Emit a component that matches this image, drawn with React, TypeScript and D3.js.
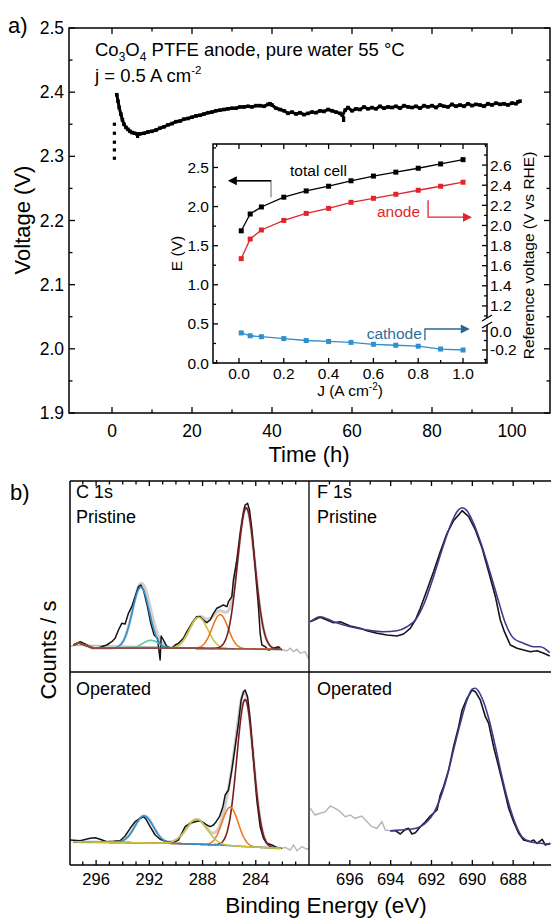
import React from "react";
import * as d3 from "d3";

const FONT = '"Liberation Sans", Arial, Helvetica, sans-serif';

// ---------- (a) durability test ----------
const timeHours = [1.2, 1.5, 1.8, 2.2, 2.6, 3.0, 3.5, 4.0, 4.5, 5.0, 5.6, 6.2, 7.0, 8.0, 9.0, 10, 11, 12, 13, 14, 15, 16, 17, 18, 19, 20, 21, 22, 23, 24, 25, 26, 27, 28, 29, 30, 31, 32, 33, 34, 35, 36, 37, 38, 39, 39.5, 40, 41, 42, 43, 44, 45, 46, 47, 48, 49, 50, 51, 52, 53, 54, 55, 56, 57, 57.6, 58.3, 59, 60, 61, 62, 63, 64, 65, 66, 67, 68, 69, 70, 71, 72, 73, 74, 75, 76, 77, 78, 79, 80, 81, 82, 83, 84, 85, 86, 87, 88, 89, 90, 91, 92, 93, 94, 95, 96, 97, 98, 99, 100, 101, 101.5, 102];
const cellVoltage = [2.396, 2.386, 2.376, 2.366, 2.357, 2.35, 2.345, 2.342, 2.339, 2.337, 2.336, 2.335, 2.335, 2.336, 2.338, 2.339, 2.341, 2.344, 2.346, 2.349, 2.351, 2.354, 2.355, 2.358, 2.359, 2.361, 2.363, 2.364, 2.366, 2.368, 2.369, 2.371, 2.372, 2.373, 2.374, 2.375, 2.375, 2.377, 2.377, 2.378, 2.377, 2.379, 2.379, 2.378, 2.381, 2.382, 2.38, 2.375, 2.373, 2.371, 2.367, 2.369, 2.366, 2.368, 2.365, 2.367, 2.369, 2.368, 2.371, 2.37, 2.373, 2.371, 2.369, 2.367, 2.364, 2.372, 2.376, 2.371, 2.374, 2.373, 2.377, 2.374, 2.376, 2.374, 2.378, 2.375, 2.377, 2.376, 2.378, 2.375, 2.379, 2.377, 2.376, 2.378, 2.375, 2.379, 2.377, 2.379, 2.376, 2.38, 2.378, 2.377, 2.381, 2.378, 2.38, 2.378, 2.382, 2.379, 2.381, 2.38, 2.378, 2.382, 2.38, 2.383, 2.381, 2.382, 2.38, 2.383, 2.382, 2.385, 2.386];
const startupTime = [0.6, 0.6, 0.6, 0.6, 0.6];
const startupVoltage = [2.35, 2.336, 2.322, 2.31, 2.297];
const strayTime = [6.4, 57.9, 57.9];
const strayVoltage = [2.331, 2.36, 2.356];
const timeTicks = [0, 20, 40, 60, 80, 100];
const timeMinor = [10, 30, 50, 70, 90];
const voltTicks = [1.9, 2.0, 2.1, 2.2, 2.3, 2.4, 2.5];
const voltMinor = [1.95, 2.05, 2.15, 2.25, 2.35, 2.45];

// ---------- inset: polarisation ----------
const currentDensity = [0.01, 0.05, 0.1, 0.2, 0.3, 0.4, 0.5, 0.6, 0.7, 0.8, 0.9, 1.0];
const totalCellE = [1.69, 1.905, 1.995, 2.12, 2.2, 2.26, 2.33, 2.39, 2.44, 2.49, 2.545, 2.6];
const anodeRHE = [1.67, 1.865, 1.955, 2.05, 2.12, 2.17, 2.23, 2.27, 2.31, 2.35, 2.39, 2.43];
const cathodeRHE = [-0.02, -0.05, -0.06, -0.08, -0.1, -0.11, -0.12, -0.14, -0.15, -0.16, -0.19, -0.2];
const jTicks = [0, 0.2, 0.4, 0.6, 0.8, 1.0];
const jMinor = [-0.1, 0.1, 0.3, 0.5, 0.7, 0.9, 1.1];
const eTicks = [0, 0.5, 1.0, 1.5, 2.0, 2.5];
const eMinor = [0.25, 0.75, 1.25, 1.75, 2.25, 2.75];
const rheUpperTicks = [1.2, 1.4, 1.6, 1.8, 2.0, 2.2, 2.4, 2.6];
const rheUpperMinor = [1.1, 1.3, 1.5, 1.7, 1.9, 2.1, 2.3, 2.5, 2.7];
const rheLowerTicks = [0.0, -0.2];
const rheLowerMinor = [-0.1, -0.3];

// ---------- (b) XPS C 1s ----------
const c1sPristineBE = [297.58, 297.2, 296.83, 296.45, 296.08, 295.7, 295.2, 294.82, 294.57, 294.32, 294.07, 293.82, 293.57, 293.32, 293.07, 292.82, 292.64, 292.44, 292.14, 291.89, 291.64, 291.39, 291.19, 291.11, 290.94, 290.68, 290.31, 290.06, 289.81, 289.44, 289.18, 288.8, 288.43, 288.18, 287.93, 287.68, 287.43, 287.18, 286.93, 286.68, 286.43, 286.17, 286.05, 285.8, 285.68, 285.42, 285.17, 284.92, 284.8, 284.62, 284.47, 284.29, 284.05, 283.8, 283.67, 283.54, 283.29, 283.04, 282.67, 282.29, 282.04];
const c1sPristineCounts = [3, 6.3, 4, 1.3, -0.3, 0.7, 3, 6.3, 9.7, 18, 24.7, 24, 34.7, 41.3, 51.3, 61.3, 63, 58, 41.3, 24.7, 13, 9.7, -12, 12, 8, 1.3, -0.3, 3, 4.7, 9.7, 16.3, 24.7, 31.3, 31.3, 28, 25.3, 28, 34.7, 39.7, 41.3, 43, 41.3, 46.3, 51.3, 68, 88, 114.7, 136.3, 143, 144.7, 138, 118, 81.3, 41.3, 14.7, 3, 1.3, -2, -0.3, 1.3, -2];
const c1sPristineTailBE = [297.98, 297.58, 282.04, 281.66, 281.41, 281.17, 280.91, 280.66, 280.29, 280.04, 279.9];
const c1sPristineTailCounts = [1.3, 3, -2, -2.7, -0.3, -3.7, -1.3, -5.3, -3.7, -10.3, -12];
const c1sPristineBaseBE = [297.7, 297.33, 296.2, 288.68, 282.17];
const c1sPristineBaseCounts = [3, 5.3, -0.3, -0.3, -1.3];
const c1sPristinePeakBE = [291.89, 292.64, 288.3, 286.68, 284.72];
const c1sPristinePeakHeight = [8, 61, 31, 34, 141];
const c1sPristinePeakSigma = [0.6, 0.64, 0.7, 0.6, 0.66];
const c1sPristinePeakColor = ["#5cc9a0", "#2f8fcf", "#c9c23a", "#f07a22", "#7a1c1e"];

const c1sOperatedBE = [297.95, 297.2, 296.45, 296.08, 295.7, 295.2, 294.7, 294.2, 293.82, 293.44, 293.07, 292.69, 292.44, 292.24, 291.94, 291.56, 291.19, 290.68, 290.19, 289.81, 289.56, 289.31, 288.93, 288.56, 288.23, 287.93, 287.68, 287.43, 287.18, 286.98, 286.73, 286.47, 286.3, 286.05, 285.8, 285.55, 285.3, 285.1, 284.92, 284.8, 284.62, 284.42, 284.17, 283.92, 283.67, 283.42, 283.17, 282.79, 282.54, 282.29, 282.04];
const c1sOperatedCounts = [5, 4.3, 6.7, 7.3, 5.7, 3.3, 3.7, 4.3, 9, 16.7, 23.3, 26.7, 28.3, 25.7, 18.3, 10, 5.7, 3.3, 2.7, 5, 11.7, 18.3, 21.7, 23.3, 24.3, 22.3, 20, 18.3, 20, 23.3, 28.3, 38.3, 50, 55, 75, 98.3, 121.7, 145, 153.3, 155, 148.3, 125, 85, 45, 18.3, 6.7, 1.7, 0, -1.7, -3.3, -3.3];
const c1sOperatedTailBE = [282.04, 281.79, 281.41, 281.17, 280.91, 280.53, 280.16, 279.9];
const c1sOperatedTailCounts = [-3.3, -2.3, -5, 0, -5.7, -1.7, -4.3, -2.3];
const c1sOperatedBaseBE = [297.95, 290.44, 286.68, 284.67, 282.17];
const c1sOperatedBaseCounts = [3.3, 1.7, 0, -1.7, -3.3];
const c1sOperatedPeakBE = [284.8, 285.92, 292.39, 288.43];
const c1sOperatedPeakHeight = [147, 38.5, 27, 24.8];
const c1sOperatedPeakSigma = [0.62, 0.6, 0.7, 0.8];
const c1sOperatedPeakColor = ["#7a1c1e", "#f07a22", "#2f8fcf", "#c9c23a"];

// ---------- (b) XPS F 1s ----------
const f1sPristineBE = [697.94, 697.45, 697.12, 696.8, 696.47, 695.98, 695.49, 695.16, 694.67, 694.18, 693.69, 693.37, 693.04, 692.79, 692.55, 692.22, 691.9, 691.57, 691.24, 690.92, 690.5, 690.18, 689.85, 689.52, 689.2, 688.87, 688.63, 688.43, 688.14, 687.81, 687.49, 687.16, 686.83, 686.5, 686.21];
const f1sPristineCounts = [50.3, 54.7, 52, 49.3, 50.3, 46, 43.7, 41.3, 38.7, 37, 36, 38, 43.7, 52, 63.7, 82, 100.3, 120.3, 138.7, 151.3, 161.3, 155.3, 142, 123.7, 100.3, 75.3, 52, 40.3, 27, 23.7, 22, 20.3, 21.3, 18.7, 16];
const f1sPristineFitBE = [697.94, 697.45, 696.8, 695.98, 695.16, 694.35, 693.69, 693.2, 692.79, 692.39, 691.9, 691.41, 691.0, 690.75, 690.5, 690.26, 689.94, 689.52, 689.12, 688.71, 688.38, 687.98, 687.49, 687.0, 686.67, 686.21];
const f1sPristineFitCounts = [50.3, 55.3, 50.3, 45.3, 42, 40.3, 41.3, 45.3, 52, 67, 95.3, 127, 150.3, 160.3, 164.3, 161.3, 148.7, 125.3, 98.7, 70.3, 48.7, 33.7, 28.7, 25.3, 25.3, 19.3];

const f1sOperatedTailBE = [697.94, 697.7, 697.45, 697.2, 696.96, 696.72, 696.47, 696.23, 695.98, 695.74, 695.41, 695.16, 694.92, 694.67, 694.43, 694.26, 694.02];
const f1sOperatedTailCounts = [56.7, 50, 51.7, 53.3, 59, 56.7, 53.3, 48.3, 50, 46.7, 49, 43.3, 38.3, 36.7, 43.3, 35, 34.3];
const f1sOperatedBE = [694.02, 693.77, 693.53, 693.28, 693.12, 692.96, 692.79, 692.55, 692.3, 692.06, 691.73, 691.57, 691.41, 691.16, 690.92, 690.67, 690.5, 690.26, 690.01, 689.85, 689.61, 689.36, 689.2, 688.96, 688.71, 688.47, 688.22, 687.98, 687.73, 687.49, 687.16, 687.0, 686.83, 686.58, 686.42, 686.18];
const f1sOperatedCounts = [34.3, 34.3, 31, 35.7, 36.7, 31, 32.3, 38.3, 43.3, 49, 55, 70, 78.3, 95, 118.3, 138.3, 155, 166.7, 175, 173.3, 165, 148.3, 141.7, 118.3, 98.3, 78.3, 56.7, 43.3, 31.7, 25, 23.3, 25, 21.7, 25.7, 20, 21.7];
const f1sOperatedFitBE = [694.02, 693.53, 693.04, 692.55, 692.22, 691.9, 691.57, 691.24, 690.92, 690.59, 690.26, 690.01, 689.85, 689.52, 689.2, 688.87, 688.55, 688.22, 687.9, 687.57, 687.16, 686.67, 686.18];
const f1sOperatedFitCounts = [34.3, 35, 35.7, 38.3, 43.3, 51.7, 66.7, 88.3, 115, 141.7, 165, 175.7, 176.7, 166.7, 146.7, 118.3, 88.3, 61.7, 41.7, 28.3, 23.3, 21.7, 20.7];

const c1sTicks = [296, 292, 288, 284];
const c1sMinor = [297, 295, 294, 293, 291, 290, 289, 287, 286, 285, 283, 282, 281];
const f1sTicks = [696, 694, 692, 690, 688];
const f1sMinor = [697, 695, 693, 691, 689, 687];

type Lin = d3.ScaleLinear<number, number>;

function pathOf(xs: number[], ys: number[], sx: Lin, sy: Lin, curve = d3.curveLinear) {
  const pts = xs.map((x, i) => [x, ys[i]] as [number, number]);
  return d3.line<[number, number]>().x((d) => sx(d[0])).y((d) => sy(d[1])).curve(curve)(pts) || "";
}

function gauss(be: number, c: number, h: number, s: number) {
  return h * Math.exp(-((be - c) * (be - c)) / (2 * s * s));
}

function XTicks({ vals, sx, y, len, keyp }: { vals: number[]; sx: Lin; y: number; len: number; keyp: string }) {
  return (
    <g>
      {vals.map((v) => (
        <line key={keyp + v} x1={sx(v)} x2={sx(v)} y1={y} y2={y + len} stroke="#000" strokeWidth={1.3} />
      ))}
    </g>
  );
}
function YTicks({ vals, sy, x, len, keyp }: { vals: number[]; sy: Lin; x: number; len: number; keyp: string }) {
  return (
    <g>
      {vals.map((v) => (
        <line key={keyp + v} y1={sy(v)} y2={sy(v)} x1={x} x2={x + len} stroke="#000" strokeWidth={1.3} />
      ))}
    </g>
  );
}

export default function App() {
  // main panel
  const xM = d3.scaleLinear().domain([-10.75, 109.5]).range([69, 550]);
  const yM = d3.scaleLinear().domain([1.9, 2.5]).range([413, 28]);
  // inset
  const L = 213, R = 487, T = 144, B = 363;
  const xI = d3.scaleLinear().domain([-0.116, 1.107]).range([L, R]);
  const yE = d3.scaleLinear().domain([0, 2.8]).range([B, T]);
  const yRu = d3.scaleLinear().domain([1.04, 2.81]).range([322, T]);
  const yRl = d3.scaleLinear().domain([-0.337, 0.095]).range([B, 322]);
  // XPS panels
  const PL = 70, PM = 309, PR = 551, PT = 481, PH = 672, PB = 865;
  const xC = d3.scaleLinear().domain([298, 280]).range([69.5, 309]);
  const xF = d3.scaleLinear().domain([698, 686]).range([309, 554]);
  const yCP = d3.scaleLinear().domain([-24, 167]).range([PH, PT]);
  const yCO = d3.scaleLinear().domain([-20, 173]).range([PB, PH]);
  const yFP = d3.scaleLinear().domain([0, 191]).range([PH, PT]);
  const yFO = d3.scaleLinear().domain([0, 193]).range([PB, PH]);

  const grid = d3.range(282.1, 297.75, 0.04);

  const c1sPanel = (
    key: string,
    sy: Lin,
    dataBE: number[],
    dataC: number[],
    tailBE: number[],
    tailC: number[],
    baseBE: number[],
    baseC: number[],
    pkBE: number[],
    pkH: number[],
    pkS: number[],
    pkCol: string[],
    drawBase: boolean
  ) => {
    const bl = d3.scaleLinear().domain(baseBE).range(baseC).clamp(true);
    const env = grid.map((be) => bl(be) + pkBE.reduce((a, c, i) => a + gauss(be, c, pkH[i], pkS[i]), 0));
    return (
      <g key={key}>
        <path d={pathOf(tailBE, tailC, xC, sy)} fill="none" stroke="#b8b8b8" strokeWidth={1.4} />
        <path d={pathOf(grid, env, xC, sy)} fill="none" stroke="#cfcfcf" strokeWidth={3} />
        <path d={pathOf(dataBE, dataC, xC, sy)} fill="none" stroke="#151515" strokeWidth={1.5} strokeLinejoin="round" />
        {pkBE.map((c, i) => (
          <path
            key={key + "pk" + i}
            d={pathOf(grid, grid.map((be) => bl(be) + gauss(be, c, pkH[i], pkS[i])), xC, sy)}
            fill="none"
            stroke={pkCol[i]}
            strokeWidth={1.6}
          />
        ))}
        {drawBase && <path d={pathOf(grid, grid.map((be) => bl(be)), xC, sy)} fill="none" stroke="#8c4a44" strokeWidth={1.3} />}
      </g>
    );
  };

  const tickFont = 17.5;
  const insetFont = 15.5;

  const sq = (x: number, y: number, s: number, fill: string, k: string) => (
    <rect key={k} x={x - s / 2} y={y - s / 2} width={s} height={s} fill={fill} />
  );

  return (
    <svg
      width={551}
      height={920}
      style={{ position: "absolute", left: 0, top: 0, display: "block", background: "#fff" }}
      fontFamily={FONT}
    >
      <rect x={0} y={0} width={551} height={920} fill="#fff" />
      {/* ================= (a) ================= */}
      <text x={8} y={33} fontSize={22}>a)</text>
      <rect x={69} y={28} width={481} height={385} fill="none" stroke="#000" strokeWidth={1.5} />
      <XTicks vals={timeTicks} sx={xM} y={413} len={-6} keyp="xb" />
      <XTicks vals={timeMinor} sx={xM} y={413} len={-3.5} keyp="xbm" />
      <XTicks vals={timeTicks} sx={xM} y={28} len={6} keyp="xt" />
      <XTicks vals={timeMinor} sx={xM} y={28} len={3.5} keyp="xtm" />
      <YTicks vals={voltTicks} sy={yM} x={69} len={6} keyp="yl" />
      <YTicks vals={voltMinor} sy={yM} x={69} len={3.5} keyp="ylm" />
      <YTicks vals={voltTicks} sy={yM} x={550} len={-6} keyp="yr" />
      <YTicks vals={voltMinor} sy={yM} x={550} len={-3.5} keyp="yrm" />
      {timeTicks.map((v) => (
        <text key={"tl" + v} x={xM(v)} y={437} fontSize={tickFont} textAnchor="middle">{v}</text>
      ))}
      {voltTicks.map((v) => (
        <text key={"vl" + v} x={64} y={yM(v) + 6} fontSize={tickFont} textAnchor="end">{v.toFixed(1)}</text>
      ))}
      <text x={309} y={462} fontSize={22} textAnchor="middle">Time (h)</text>
      <text transform={`translate(30,220) rotate(-90)`} fontSize={22} textAnchor="middle">Voltage (V)</text>
      <text x={95} y={56} fontSize={18.5}>
        Co<tspan fontSize={12} dy={5}>3</tspan>
        <tspan dy={-5}>O</tspan>
        <tspan fontSize={12} dy={5}>4</tspan>
        <tspan dy={-5}> PTFE anode, pure water 55 °C</tspan>
      </text>
      <text x={95} y={82} fontSize={18.5}>
        j = 0.5 A cm<tspan fontSize={11.5} dy={-8}>-2</tspan>
      </text>

      <path d={pathOf(timeHours, cellVoltage, xM, yM)} fill="none" stroke="#000" strokeWidth={3} strokeLinejoin="round" />
      {timeHours.map((t, i) => sq(xM(t), yM(cellVoltage[i]), 3.6, "#000", "m" + i))}
      {startupTime.map((t, i) => sq(xM(t), yM(startupVoltage[i]), 3.2, "#000", "s" + i))}
      {strayTime.map((t, i) => sq(xM(t), yM(strayVoltage[i]), 3.2, "#000", "st" + i))}

      {/* ---------- inset ---------- */}
      <rect x={L} y={T} width={R - L} height={B - T} fill="#fff" stroke="#000" strokeWidth={1.5} />
      <XTicks vals={jTicks} sx={xI} y={B} len={-5} keyp="ib" />
      <XTicks vals={jMinor} sx={xI} y={B} len={-3} keyp="ibm" />
      <XTicks vals={jTicks} sx={xI} y={T} len={5} keyp="it" />
      <XTicks vals={jMinor} sx={xI} y={T} len={3} keyp="itm" />
      <YTicks vals={eTicks} sy={yE} x={L} len={5} keyp="il" />
      <YTicks vals={eMinor} sy={yE} x={L} len={3} keyp="ilm" />
      <YTicks vals={rheUpperTicks} sy={yRu} x={R} len={-5} keyp="iru" />
      <YTicks vals={rheUpperMinor} sy={yRu} x={R} len={-3} keyp="irum" />
      <YTicks vals={rheLowerTicks} sy={yRl} x={R} len={-5} keyp="irl" />
      <YTicks vals={rheLowerMinor} sy={yRl} x={R} len={-3} keyp="irlm" />
      {/* axis break */}
      <rect x={R - 3} y={318} width={6} height={7} fill="#fff" />
      <line x1={R - 5} y1={321} x2={R + 5} y2={315} stroke="#000" strokeWidth={1.3} />
      <line x1={R - 5} y1={328} x2={R + 5} y2={322} stroke="#000" strokeWidth={1.3} />
      {jTicks.map((v) => (
        <text key={"jl" + v} x={xI(v)} y={379} fontSize={insetFont} textAnchor="middle">{v.toFixed(1)}</text>
      ))}
      {eTicks.map((v) => (
        <text key={"el" + v} x={L - 4} y={yE(v) + 5.5} fontSize={insetFont} textAnchor="end">{v.toFixed(1)}</text>
      ))}
      {rheUpperTicks.map((v) => (
        <text key={"ru" + v} x={R + 3} y={yRu(v) + 5.5} fontSize={insetFont}>{v.toFixed(1)}</text>
      ))}
      {rheLowerTicks.map((v) => (
        <text key={"rl" + v} x={R + 3} y={yRl(v) + 5.5} fontSize={insetFont}>{v.toFixed(1)}</text>
      ))}
      <text x={(L + R) / 2} y={396} fontSize={insetFont} textAnchor="middle">
        J (A cm<tspan fontSize={10} dy={-6}>-2</tspan>
        <tspan dy={6}>)</tspan>
      </text>
      <text transform={`translate(182,${(T + B) / 2}) rotate(-90)`} fontSize={insetFont} textAnchor="middle">E (V)</text>
      <text transform={`translate(534,${(T + B) / 2 + 2}) rotate(-90)`} fontSize={insetFont} textAnchor="middle">
        Reference voltage (V vs RHE)
      </text>

      <path d={pathOf(currentDensity, totalCellE, xI, yE)} fill="none" stroke="#000" strokeWidth={1.3} />
      {currentDensity.map((j, i) => sq(xI(j), yE(totalCellE[i]), 5, "#000", "tc" + i))}
      <path d={pathOf(currentDensity, anodeRHE, xI, yRu)} fill="none" stroke="#e0262b" strokeWidth={1.3} />
      {currentDensity.map((j, i) => sq(xI(j), yRu(anodeRHE[i]), 5, "#e0262b", "an" + i))}
      <path d={pathOf(currentDensity, cathodeRHE, xI, yRl)} fill="none" stroke="#2f8fcf" strokeWidth={1.3} />
      {currentDensity.map((j, i) => sq(xI(j), yRl(cathodeRHE[i]), 5, "#2f8fcf", "ca" + i))}

      {/* annotations */}
      <text x={xI(0.228)} y={yE(2.39)} fontSize={insetFont}>total cell</text>
      <polyline points={`${xI(0.143)},${yE(2.12)} ${xI(0.143)},${yE(2.33)} ${xI(-0.02)},${yE(2.33)}`} fill="none" stroke="#8a8a8a" strokeWidth={1.3} />
      <line x1={xI(0.143)} y1={yE(2.33)} x2={xI(-0.02)} y2={yE(2.33)} stroke="#000" strokeWidth={1.3} />
      <path d={`M${xI(-0.05)},${yE(2.33)} l9,-4.5 l0,9 z`} fill="#000" />

      <text x={xI(0.616)} y={yE(1.87)} fontSize={insetFont} fill="#e0262b">anode</text>
      <polyline points={`${xI(0.844)},${yE(2.08)} ${xI(0.844)},${yE(1.865)} ${xI(1.0)},${yE(1.865)}`} fill="none" stroke="#e0262b" strokeWidth={1.3} />
      <path d={`M${xI(1.04)},${yE(1.865)} l-9,-4.5 l0,9 z`} fill="#e0262b" />

      <text x={xI(0.57)} y={yE(0.31)} fontSize={insetFont} fill="#2d6f9c">cathode</text>
      <polyline points={`${xI(0.83)},${yE(0.29)} ${xI(0.83)},${yE(0.435)} ${xI(0.99)},${yE(0.435)}`} fill="none" stroke="#2a6790" strokeWidth={1.3} />
      <path d={`M${xI(1.03)},${yE(0.435)} l-9,-4.5 l0,9 z`} fill="#2a6790" />

      {/* ================= (b) ================= */}
      <text x={10} y={500} fontSize={22}>b)</text>
      <defs>
        <clipPath id="cpC"><rect x={PL} y={PT} width={PM - PL} height={PH - PT} /></clipPath>
        <clipPath id="coC"><rect x={PL} y={PH} width={PM - PL} height={PB - PH} /></clipPath>
        <clipPath id="fpC"><rect x={PM} y={PT} width={PR - PM} height={PH - PT} /></clipPath>
        <clipPath id="foC"><rect x={PM} y={PH} width={PR - PM} height={PB - PH} /></clipPath>
      </defs>
      <g clipPath="url(#cpC)">
        {c1sPanel("cp", yCP, c1sPristineBE, c1sPristineCounts, c1sPristineTailBE, c1sPristineTailCounts, c1sPristineBaseBE, c1sPristineBaseCounts, c1sPristinePeakBE, c1sPristinePeakHeight, c1sPristinePeakSigma, c1sPristinePeakColor, true)}
      </g>
      <g clipPath="url(#coC)">
        {c1sPanel("co", yCO, c1sOperatedBE, c1sOperatedCounts, c1sOperatedTailBE, c1sOperatedTailCounts, c1sOperatedBaseBE, c1sOperatedBaseCounts, c1sOperatedPeakBE, c1sOperatedPeakHeight, c1sOperatedPeakSigma, c1sOperatedPeakColor, false)}
      </g>
      <g clipPath="url(#fpC)">
        <path d={pathOf(f1sPristineBE, f1sPristineCounts, xF, yFP)} fill="none" stroke="#151515" strokeWidth={1.6} strokeLinejoin="round" />
        <path d={pathOf(f1sPristineFitBE, f1sPristineFitCounts, xF, yFP, d3.curveMonotoneX)} fill="none" stroke="#3d3b8e" strokeWidth={1.6} />
      </g>
      <g clipPath="url(#foC)">
        <path d={pathOf(f1sOperatedTailBE, f1sOperatedTailCounts, xF, yFO)} fill="none" stroke="#b8b8b8" strokeWidth={1.5} />
        <path d={pathOf(f1sOperatedBE, f1sOperatedCounts, xF, yFO)} fill="none" stroke="#151515" strokeWidth={1.6} strokeLinejoin="round" />
        <path d={pathOf(f1sOperatedFitBE, f1sOperatedFitCounts, xF, yFO, d3.curveMonotoneX)} fill="none" stroke="#3d3b8e" strokeWidth={1.6} />
      </g>
      {/* frames */}
      <line x1={PL} y1={PT} x2={PR} y2={PT} stroke="#000" strokeWidth={1.5} />
      <line x1={PL} y1={PB} x2={PR} y2={PB} stroke="#000" strokeWidth={1.5} />
      <line x1={PL} y1={PH} x2={PR} y2={PH} stroke="#000" strokeWidth={1.3} />
      <line x1={PL} y1={PT} x2={PL} y2={PB} stroke="#000" strokeWidth={1.5} />
      <line x1={PM} y1={PT} x2={PM} y2={PB} stroke="#000" strokeWidth={1.3} />
      <XTicks vals={c1sTicks} sx={xC} y={PB} len={-5} keyp="cb" />
      <XTicks vals={c1sMinor} sx={xC} y={PB} len={-3.5} keyp="cbm" />
      <XTicks vals={c1sTicks} sx={xC} y={PT} len={5} keyp="ct" />
      <XTicks vals={c1sMinor} sx={xC} y={PT} len={3.5} keyp="ctm" />
      <XTicks vals={f1sTicks} sx={xF} y={PB} len={-5} keyp="fb" />
      <XTicks vals={f1sMinor} sx={xF} y={PB} len={-3.5} keyp="fbm" />
      <XTicks vals={f1sTicks} sx={xF} y={PT} len={5} keyp="ft" />
      <XTicks vals={f1sMinor} sx={xF} y={PT} len={3.5} keyp="ftm" />
      {c1sTicks.map((v) => (
        <text key={"cl" + v} x={xC(v)} y={885} fontSize={16.5} textAnchor="middle">{v}</text>
      ))}
      {f1sTicks.map((v) => (
        <text key={"fl" + v} x={xF(v)} y={885} fontSize={16.5} textAnchor="middle">{v}</text>
      ))}
      <text x={76} y={498} fontSize={18}>C 1s</text>
      <text x={76} y={523} fontSize={18}>Pristine</text>
      <text x={76} y={695} fontSize={18}>Operated</text>
      <text x={317} y={498} fontSize={18}>F 1s</text>
      <text x={317} y={523} fontSize={18}>Pristine</text>
      <text x={317} y={695} fontSize={18}>Operated</text>
      <text x={326} y={913} fontSize={22.5} textAnchor="middle">Binding Energy (eV)</text>
      <text transform={`translate(56,650) rotate(-90)`} fontSize={22} textAnchor="middle">Counts / s</text>
    </svg>
  );
}
